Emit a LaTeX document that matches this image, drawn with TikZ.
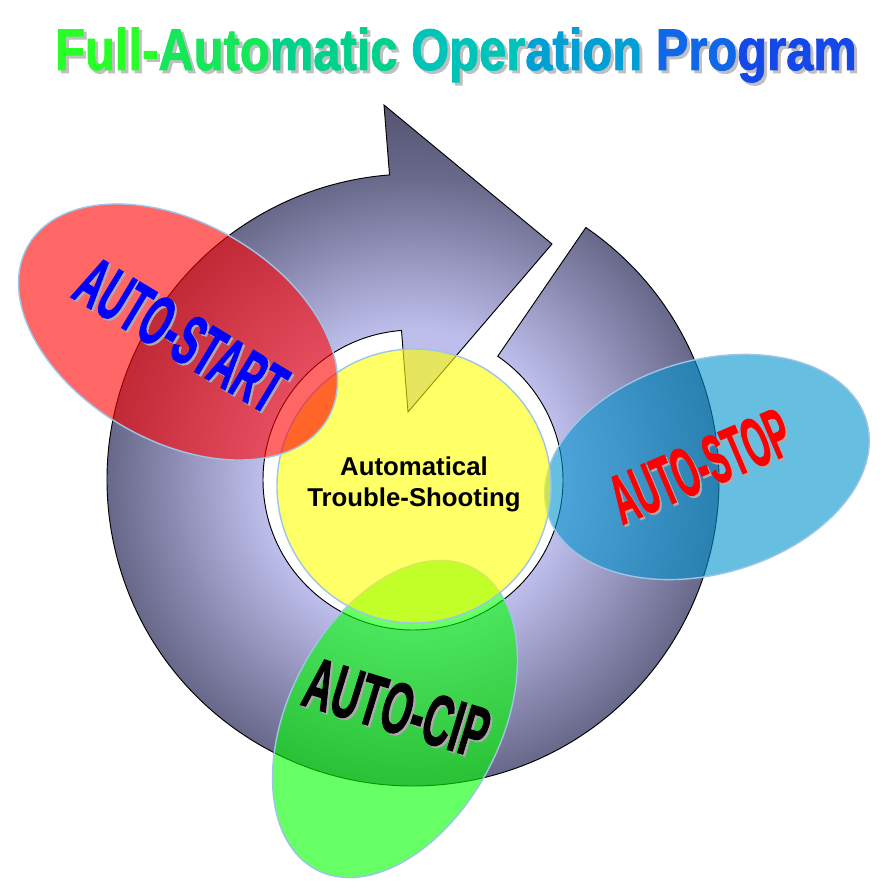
\documentclass[tikz,border=0pt]{standalone}
\usepackage{fontspec}
\setmainfont{Liberation Sans}
\newfontfamily\artfont[FakeBold=1.6]{Liberation Sans Bold}
\usetikzlibrary{shapes.geometric,calc}
\definecolor{ringlight}{RGB}{190,190,236}
\definecolor{ringmid}{RGB}{104,104,138}
\definecolor{ringdark}{RGB}{84,84,112}
\definecolor{edgeblue}{RGB}{158,196,230}
\definecolor{startred}{RGB}{255,0,0}
\definecolor{stopblue}{RGB}{0,146,204}
\definecolor{cipgreen}{RGB}{0,255,0}
\definecolor{troubleyellow}{RGB}{255,255,0}
\definecolor{artshadow}{RGB}{176,168,176}
\pgfdeclareradialshading{ringshade}{\pgfpoint{0bp}{0bp}}{color(0bp)=(ringlight); color(10bp)=(ringlight); color(20.3bp)=(ringmid); color(25bp)=(ringdark); color(50bp)=(ringdark)}
\tikzset{
  blob/.style={ellipse, draw=edgeblue, line width=1.2pt, fill opacity=0.6, inner sep=0pt},
  wordart/.style={font=\artfont\fontsize{#1}{#1}\selectfont, inner sep=0pt},
  wordshadow/.style={text=artshadow}
}
\begin{document}
\begin{tikzpicture}[x=0.3mm,y=0.3mm]
\useasboundingbox (0,0) rectangle (891,890);
\coordinate (c) at (413,410);
\def\ringpath{($(c)+(55.6:306)$) arc[start angle=55.6, end angle=-265.6, radius=306]
  -- (384,785) -- (552,646) -- (408,478)
  -- ($(c)+(94.4:150)$) arc[start angle=-265.6, end angle=55.6, radius=150] -- cycle}
% circular arrow
\begin{scope}
  \clip \ringpath;
  \shade[shading=ringshade] (c) circle (376);
\end{scope}
\draw[line width=0.8pt] \ringpath;
% bubbles
\node[blob, fill=stopblue, minimum width=99.6mm, minimum height=64.2mm, rotate=16] (stop) at (707,423) {};
\node[blob, fill=cipgreen, minimum width=102mm, minimum height=63.6mm, rotate=62.5] (cip) at (395,171) {};
\node[blob, circle, fill=troubleyellow, minimum size=82.2mm] (trouble) at (414,404) {};
\node[blob, fill=startred, minimum width=103.8mm, minimum height=65.4mm, rotate=-30] (start) at (178,558) {};
% labels
\node[font=\fontsize{22}{26.5}\selectfont\bfseries, align=center] (troubletxt) at (414,406) {Automatical\\Trouble-Shooting};
\node[wordart=49.5, wordshadow, rotate=-31, xscale=0.62, yscale=1.22] (startshd) at (183,553) {AUTO-START};
\node[wordart=49.5, text=blue, rotate=-31, xscale=0.62, yscale=1.22] (starttxt) at (181,555) {AUTO-START};
\node[wordart=47.5, wordshadow, rotate=23, xscale=0.58, yscale=1.25] (stopshd) at (702,422) {AUTO-STOP};
\node[wordart=47.5, text=red, rotate=23, xscale=0.58, yscale=1.25] (stoptxt) at (700,424) {AUTO-STOP};
\node[wordart=51.5, wordshadow, rotate=-17, xscale=0.65, yscale=1.2] (cipshd) at (399,180) {AUTO-CIP};
\node[wordart=51.5, text=black, rotate=-17, xscale=0.65, yscale=1.2] (ciptxt) at (397,182) {AUTO-CIP};
% title
\node[wordart=50, text=black!25, anchor=base west, xscale=0.835] (titleshd) at (58,817) {Full-Automatic Operation Program};
\node[wordart=50, anchor=base west, xscale=0.835] (title) at (55,820) {%
  \textcolor[RGB]{40,255,40}{Full-}\textcolor[RGB]{20,232,90}{Auto}\textcolor[RGB]{0,210,140}{matic}
  \textcolor[RGB]{0,196,184}{Oper}\textcolor[RGB]{0,160,212}{ation}
  \textcolor[RGB]{16,104,232}{Pro}\textcolor[RGB]{20,72,232}{gram}};
\end{tikzpicture}
\end{document}
